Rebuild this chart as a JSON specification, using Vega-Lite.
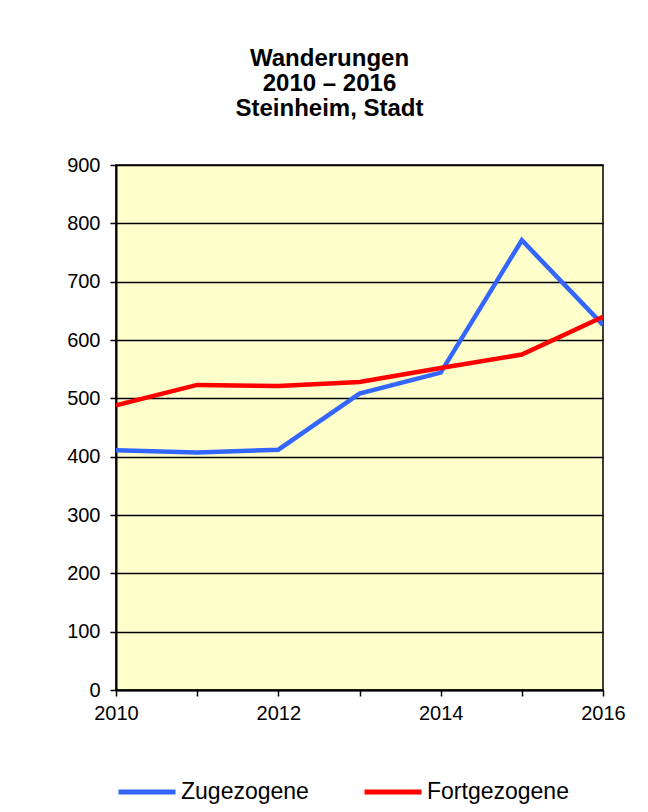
{
  "$schema": "https://vega.github.io/schema/vega-lite/v6.json",
  "width": 487,
  "height": 525,
  "autosize": {"type": "none"},
  "padding": {"left": 116, "top": 165, "right": 45, "bottom": 122},
  "background": "white",
  "title": {
    "text": ["Wanderungen", "2010 – 2016", "Steinheim, Stadt"],
    "font": "Liberation Sans",
    "fontSize": 24,
    "fontWeight": "bold",
    "lineHeight": 25,
    "color": "black",
    "offset": 34,
    "dx": -30,
    "anchor": "middle"
  },
  "data": {
    "values": [
      {"Jahr": 2010, "Anzahl": 411, "Reihe": "Zugezogene"},
      {"Jahr": 2011, "Anzahl": 407, "Reihe": "Zugezogene"},
      {"Jahr": 2012, "Anzahl": 412, "Reihe": "Zugezogene"},
      {"Jahr": 2013, "Anzahl": 508, "Reihe": "Zugezogene"},
      {"Jahr": 2014, "Anzahl": 544, "Reihe": "Zugezogene"},
      {"Jahr": 2015, "Anzahl": 771, "Reihe": "Zugezogene"},
      {"Jahr": 2016, "Anzahl": 626, "Reihe": "Zugezogene"},
      {"Jahr": 2010, "Anzahl": 488, "Reihe": "Fortgezogene"},
      {"Jahr": 2011, "Anzahl": 523, "Reihe": "Fortgezogene"},
      {"Jahr": 2012, "Anzahl": 521, "Reihe": "Fortgezogene"},
      {"Jahr": 2013, "Anzahl": 528, "Reihe": "Fortgezogene"},
      {"Jahr": 2014, "Anzahl": 552, "Reihe": "Fortgezogene"},
      {"Jahr": 2015, "Anzahl": 575, "Reihe": "Fortgezogene"},
      {"Jahr": 2016, "Anzahl": 640, "Reihe": "Fortgezogene"}
    ]
  },
  "mark": {"type": "line", "strokeWidth": 4.5, "clip": true},
  "encoding": {
    "x": {
      "field": "Jahr",
      "type": "quantitative",
      "scale": {"domain": [2010, 2016], "nice": false, "zero": false},
      "axis": {
        "title": null,
        "values": [2010, 2011, 2012, 2013, 2014, 2015, 2016],
        "format": "d",
        "labelExpr": "datum.value % 2 == 0 ? datum.label : ''",
        "grid": false,
        "tickSize": 6,
        "tickColor": "black",
        "tickWidth": 1.5,
        "domainColor": "black",
        "domainWidth": 2,
        "labelFontSize": 20,
        "labelFont": "Liberation Sans",
        "labelColor": "black",
        "labelPadding": 7,
        "labelFlush": false,
        "labelOverlap": false
      }
    },
    "y": {
      "field": "Anzahl",
      "type": "quantitative",
      "scale": {"domain": [0, 900], "nice": false},
      "axis": {
        "title": null,
        "values": [0, 100, 200, 300, 400, 500, 600, 700, 800, 900],
        "grid": true,
        "gridColor": "black",
        "gridWidth": 1.5,
        "gridOpacity": 1,
        "tickSize": 6,
        "tickColor": "black",
        "tickWidth": 1.5,
        "domainColor": "black",
        "domainWidth": 2,
        "labelFontSize": 20,
        "labelFont": "Liberation Sans",
        "labelColor": "black",
        "labelPadding": 10,
        "labelOverlap": false
      }
    },
    "color": {
      "field": "Reihe",
      "type": "nominal",
      "scale": {"domain": ["Zugezogene", "Fortgezogene"], "range": ["#3366FF", "#FF0000"]},
      "legend": {
        "title": null,
        "orient": "bottom",
        "direction": "horizontal",
        "symbolType": "stroke",
        "symbolSize": 3249,
        "symbolStrokeWidth": 5,
        "labelFontSize": 23,
        "labelFont": "Liberation Sans",
        "labelColor": "black",
        "columnPadding": 45,
        "offset": 38,
        "labelOffset": 3
      }
    }
  },
  "config": {"view": {"fill": "#FFFFCC", "stroke": "black", "strokeWidth": 1.5}}
}
